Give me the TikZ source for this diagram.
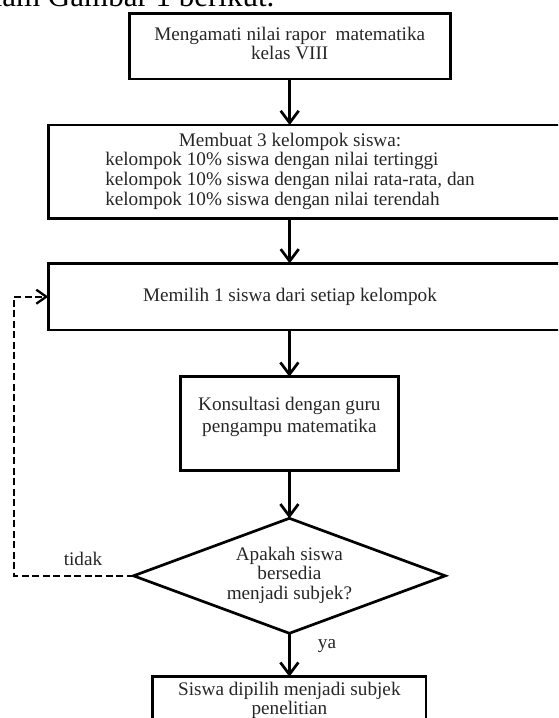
\documentclass[tikz,border=0pt]{standalone}
\usepackage{fontspec}
\setmainfont{Liberation Serif}
\usetikzlibrary{arrows.meta,shapes.geometric}
\newcommand{\tbc}[1]{\begin{tabular}{@{}c@{}}#1\end{tabular}}
\begin{document}
\begin{tikzpicture}[x=1pt,y=-1pt,
  every node/.style={font=\fontsize{19.2}{19.6}\selectfont, inner sep=0pt, outer sep=0pt},
  boxnode/.style={draw, line width=2.7pt, rectangle, text=black!85},
  dianode/.style={draw, line width=2.7pt, diamond, aspect=2.71, text=black!85},
  lbl/.style={anchor=base, text=black!85},
  arr/.style={line width=2.7pt, -{Straight Barb[length=12pt,width=18pt]}},
  dasharr/.style={line width=2.3pt, dash pattern=on 7pt off 3.5pt, -{Straight Barb[length=10pt,width=14pt]}}
]
\useasboundingbox (0,0) rectangle (558,718);
\clip (0,0) rectangle (558,718);

% cut-off running text at the top
\node[anchor=base west, font=\fontsize{31}{36}\selectfont] (top) at (48,6) {\llap{dalam }Gambar 1 berikut.};

% boxes
\node[boxnode, minimum width=321pt, minimum height=65.7pt] (b1) at (289.7,46.2)
  {\tbc{Mengamati nilai rapor~ matematika\\ kelas VIII}};

\node[boxnode, minimum width=531.7pt, minimum height=93.3pt] (b2) at (314.15,171.7)
  {\hspace*{-48.3pt}\begin{tabular}{@{}l@{}}
   \multicolumn{1}{@{}c@{}}{Membuat 3 kelompok siswa:}\\
   kelompok 10\% siswa dengan nilai tertinggi\\
   kelompok 10\% siswa dengan nilai rata-rata, dan\\
   kelompok 10\% siswa dengan nilai terendah
   \end{tabular}};

\node[boxnode, minimum width=531.7pt, minimum height=66.7pt] (b3) at (314.15,296.7)
  {\hspace*{-48.3pt}Memilih 1 siswa dari setiap kelompok};

\node[boxnode, minimum width=218.3pt, minimum height=94pt] (b4) at (289.4,423.7)
  {\tbc{Konsultasi dengan guru\\[2pt] pengampu matematika\\[12pt]}};

\node[dianode, minimum width=311.7pt, minimum height=115pt] (dia) at (289.4,575.8)
  {\tbc{Apakah siswa\\ bersedia\\ menjadi subjek?}};

\node[boxnode, minimum width=273.3pt, minimum height=49pt] (b5) at (289.4,701.2)
  {\tbc{Siswa dipilih menjadi subjek\\ penelitian}};

% labels
\node[lbl] (tidak) at (83,565) {tidak};
\node[lbl] (ya) at (327,648.3) {ya};

% connectors
\draw[arr] (b1.south) -- (b1.south |- b2.north);
\draw[arr] (b2.south -| b1.south) -- (b3.north -| b1.south);
\draw[arr] (b3.south -| b4.north) -- (b4.north);
\draw[arr] (b4.south) -- (dia.north);
\draw[arr] (dia.south) -- (b5.north);
\coordinate (loop) at (14,575.8);
\draw[dasharr] (dia.west) -- (loop) |- (b3.west);
\end{tikzpicture}
\end{document}
